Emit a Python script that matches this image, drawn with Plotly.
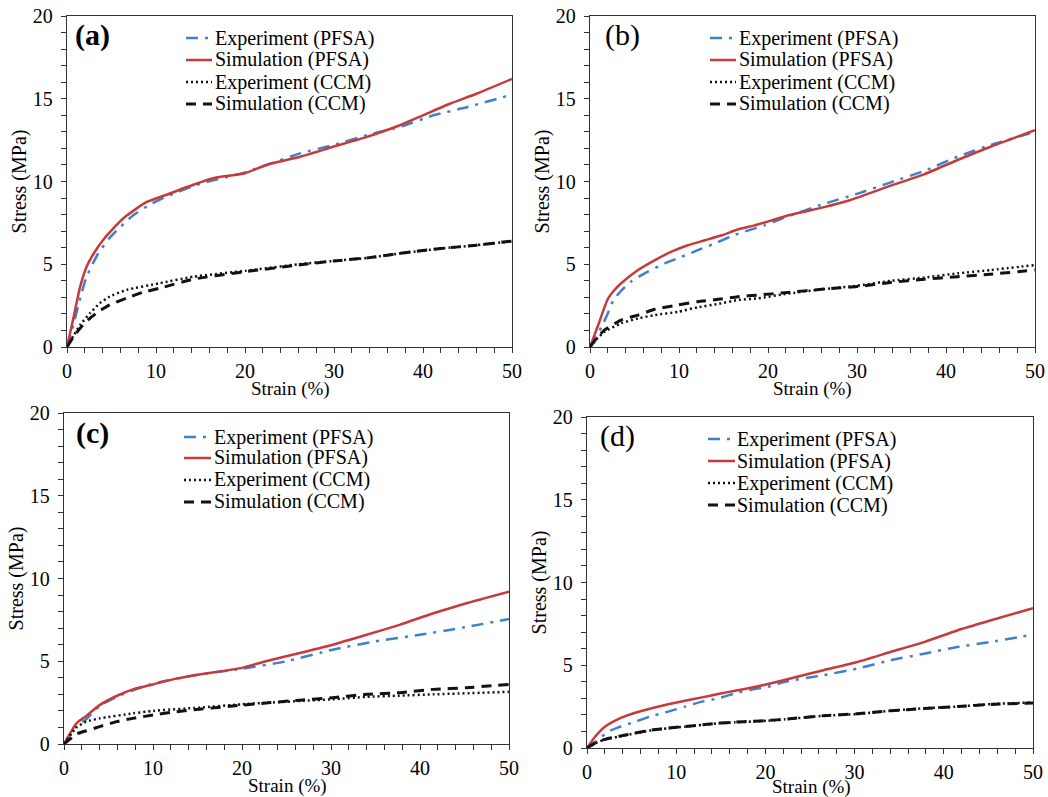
import plotly.graph_objects as go

# ---------------- data (strain %, stress MPa) ----------------
# Panel (a)
a_exp_pfsa_x = [0, 0.7, 1.46, 2.2, 3.5, 4.8, 5.6, 7.4, 9.3, 11.2, 14.9, 20, 22.4, 26.2, 29.9, 33.7, 37.4, 41.2, 45, 50]
a_exp_pfsa_y = [0, 1.3, 2.9, 4.25, 5.65, 6.6, 7.05, 7.95, 8.6, 9.1, 9.85, 10.55, 11.0, 11.7, 12.2, 12.8, 13.3, 14.0, 14.5, 15.25]
a_sim_pfsa_x = [0, 0.7, 1.46, 2.2, 3.0, 4.1, 5.0, 6.5, 8.9, 11.2, 13.4, 16.4, 20, 22.4, 26.2, 29.9, 33.7, 37.4, 40, 43, 46, 50]
a_sim_pfsa_y = [0, 1.7, 3.6, 4.85, 5.65, 6.5, 7.05, 7.85, 8.75, 9.2, 9.65, 10.2, 10.5, 11.0, 11.5, 12.1, 12.7, 13.4, 14.0, 14.7, 15.3, 16.2]
a_exp_ccm_x = [0, 0.7, 1.5, 2.6, 3.7, 4.8, 6.7, 10.4, 14.2, 20, 26, 30, 34, 38, 42, 46, 50]
a_exp_ccm_y = [0, 0.65, 1.35, 2.05, 2.65, 3.05, 3.45, 3.85, 4.25, 4.6, 5.0, 5.2, 5.4, 5.7, 5.95, 6.15, 6.4]
a_sim_ccm_x = [0, 0.7, 1.5, 2.6, 3.7, 4.8, 6.7, 8.5, 10.4, 14.2, 20, 26, 30, 34, 38, 42, 46, 50]
a_sim_ccm_y = [0, 0.6, 1.15, 1.75, 2.2, 2.55, 2.95, 3.3, 3.55, 4.1, 4.55, 4.95, 5.2, 5.4, 5.7, 5.95, 6.15, 6.4]

# Panel (b)
b_exp_pfsa_x = [0, 1.3, 2.0, 2.6, 3.5, 4.6, 6.5, 8.4, 10.3, 12.1, 14, 15.9, 17.8, 19.6, 21.5, 26.3, 30, 33.8, 37.6, 41.3, 45, 50]
b_exp_pfsa_y = [0, 1.23, 2.03, 2.8, 3.4, 3.95, 4.55, 5.05, 5.45, 5.85, 6.25, 6.7, 7.05, 7.35, 7.75, 8.65, 9.25, 9.95, 10.65, 11.5, 12.2, 13.0]
b_sim_pfsa_x = [0, 0.9, 2.0, 2.6, 3.5, 5.4, 7.3, 9.1, 11, 12.9, 14.8, 16.6, 18.5, 20.4, 22.2, 26.3, 29.1, 33.8, 37.6, 41.3, 45, 50]
b_sim_pfsa_y = [0, 1.3, 2.9, 3.35, 3.85, 4.65, 5.25, 5.75, 6.15, 6.45, 6.75, 7.1, 7.35, 7.65, 7.95, 8.45, 8.85, 9.75, 10.45, 11.3, 12.1, 13.1]
b_exp_ccm_x = [0, 0.7, 1.65, 3.5, 5.4, 7.3, 9.9, 12.1, 14.4, 16.6, 18.9, 21.9, 26.3, 30, 33.8, 37.6, 41.3, 45, 50]
b_exp_ccm_y = [0, 0.45, 0.93, 1.43, 1.73, 1.93, 2.13, 2.4, 2.6, 2.84, 2.94, 3.2, 3.5, 3.7, 4.0, 4.2, 4.45, 4.65, 4.95]
b_sim_ccm_x = [0, 0.7, 1.65, 3.5, 5.4, 7.3, 9.9, 12.1, 14.4, 16.6, 18.9, 21.9, 26.3, 30, 33.8, 37.6, 41.3, 45, 50]
b_sim_ccm_y = [0, 0.5, 1.03, 1.63, 1.93, 2.28, 2.54, 2.74, 2.88, 3.04, 3.14, 3.28, 3.5, 3.65, 3.9, 4.1, 4.25, 4.4, 4.65]

# Panel (c)
c_exp_pfsa_x = [0, 1.4, 2.5, 4, 5.9, 7.75, 10, 12.6, 15.2, 20, 25, 30.2, 35, 40, 45, 50]
c_exp_pfsa_y = [0, 1.1, 1.5, 2.3, 2.85, 3.25, 3.65, 3.95, 4.2, 4.55, 5.0, 5.7, 6.2, 6.6, 7.05, 7.55]
c_sim_pfsa_x = [0, 1.4, 2.5, 4, 5.9, 7.75, 10, 12.6, 15.2, 20, 22.7, 26.5, 30.2, 34, 37.7, 41.5, 45.2, 50]
c_sim_pfsa_y = [0, 1.25, 1.7, 2.35, 2.9, 3.3, 3.6, 3.95, 4.2, 4.6, 5.0, 5.5, 6.0, 6.6, 7.2, 7.9, 8.5, 9.2]
c_exp_ccm_x = [0, 1.4, 2.5, 4, 7.75, 10, 15.2, 20, 26.5, 30.2, 34, 37.7, 41.5, 50]
c_exp_ccm_y = [0, 1.0, 1.35, 1.55, 1.85, 2.0, 2.2, 2.4, 2.6, 2.7, 2.85, 2.92, 3.0, 3.15]
c_sim_ccm_x = [0, 1.4, 2.5, 4, 5.9, 7.75, 10, 12.6, 15.2, 20, 26.5, 30.2, 34, 37.7, 41.5, 45.2, 50]
c_sim_ccm_y = [0, 0.6, 0.8, 1.05, 1.35, 1.55, 1.75, 1.95, 2.1, 2.35, 2.65, 2.8, 3.0, 3.1, 3.3, 3.4, 3.6]

# Panel (d)
d_exp_pfsa_x = [0, 1.1, 2.4, 3.5, 5.4, 7.25, 9.1, 11, 12.9, 14.7, 16.6, 18.5, 20.3, 22.2, 26.5, 30.3, 34, 37.8, 41.5, 45.2, 50]
d_exp_pfsa_y = [0, 0.45, 0.99, 1.25, 1.59, 1.93, 2.2, 2.5, 2.8, 3.0, 3.3, 3.54, 3.7, 4.0, 4.4, 4.8, 5.3, 5.7, 6.1, 6.4, 6.85]
d_sim_pfsa_x = [0, 0.9, 2.0, 3.5, 5.4, 7.25, 9.1, 11, 12.9, 14.7, 16.6, 18.5, 20.3, 22.8, 26.5, 30.3, 34, 37.8, 41.5, 45.2, 50]
d_sim_pfsa_y = [0, 0.68, 1.29, 1.75, 2.13, 2.4, 2.64, 2.86, 3.06, 3.26, 3.46, 3.65, 3.87, 4.2, 4.7, 5.2, 5.8, 6.4, 7.1, 7.7, 8.45]
d_exp_ccm_x = [0, 0.9, 2.0, 3.5, 5.4, 7.25, 9.1, 11, 12.9, 14.7, 16.6, 18.5, 20.3, 22.2, 26.5, 30.3, 34, 37.8, 41.5, 45.2, 50]
d_exp_ccm_y = [0, 0.28, 0.52, 0.68, 0.89, 1.07, 1.19, 1.29, 1.39, 1.49, 1.55, 1.6, 1.65, 1.73, 1.95, 2.05, 2.25, 2.4, 2.5, 2.65, 2.75]
d_sim_ccm_x = [0, 0.9, 2.0, 3.5, 5.4, 7.25, 9.1, 11, 12.9, 14.7, 16.6, 18.5, 20.3, 22.2, 26.5, 30.3, 34, 37.8, 41.5, 45.2, 50]
d_sim_ccm_y = [0, 0.3, 0.52, 0.7, 0.9, 1.09, 1.2, 1.3, 1.4, 1.5, 1.56, 1.61, 1.66, 1.74, 1.95, 2.07, 2.25, 2.38, 2.5, 2.63, 2.72]

series_names = ["Experiment (PFSA)", "Simulation (PFSA)", "Experiment (CCM)", "Simulation (CCM)"]
panel_labels = ["(a)", "(b)", "(c)", "(d)"]
x_title = "Strain (%)"
y_title = "Stress (MPa)"
x_ticks = [0, 10, 20, 30, 40, 50]
y_ticks = [0, 5, 10, 15, 20]

panels = [
    (a_exp_pfsa_x, a_exp_pfsa_y, a_sim_pfsa_x, a_sim_pfsa_y, a_exp_ccm_x, a_exp_ccm_y, a_sim_ccm_x, a_sim_ccm_y),
    (b_exp_pfsa_x, b_exp_pfsa_y, b_sim_pfsa_x, b_sim_pfsa_y, b_exp_ccm_x, b_exp_ccm_y, b_sim_ccm_x, b_sim_ccm_y),
    (c_exp_pfsa_x, c_exp_pfsa_y, c_sim_pfsa_x, c_sim_pfsa_y, c_exp_ccm_x, c_exp_ccm_y, c_sim_ccm_x, c_sim_ccm_y),
    (d_exp_pfsa_x, d_exp_pfsa_y, d_sim_pfsa_x, d_sim_pfsa_y, d_exp_ccm_x, d_exp_ccm_y, d_sim_ccm_x, d_sim_ccm_y),
]

# ---------------- styling / layout ----------------
W, H = 1048, 797
FONT = "Liberation Serif, Times New Roman, serif"
styles = [
    dict(color="#3f80cc", width=2.5, dash="12px,7px,3px,7px"),
    dict(color="#c83a3a", width=2.5, dash="solid"),
    dict(color="#111111", width=2.5, dash="2px,3px"),
    dict(color="#111111", width=3, dash="10px,7px"),
]
# plot areas in pixels: left, right, top, bottom
boxes = [(67, 512, 16, 347), (590, 1035, 16, 347), (64, 509, 413, 744), (587, 1033, 417, 748)]
# legend: sample start x, sample end x, text left x, row centre y's
legend_geo = [
    (186, 212, 213, [38, 60, 82, 104]),
    (710, 736, 737, [38, 60, 82, 104]),
    (184, 211, 212, [437, 458, 480, 502]),
    (708, 735, 735, [439, 461, 483, 505]),
]
label_pos = [(92, 35), (622, 35), (92, 433), (617, 436)]
label_bold = [True, False, True, False]
xtitle_pos = [(290, 389), (812, 389), (287, 786), (811, 787)]

fig = go.Figure()
layout = dict(width=W, height=H, margin=dict(l=0, r=0, t=0, b=0, autoexpand=False),
              paper_bgcolor="white", plot_bgcolor="white", showlegend=False,
              font=dict(family=FONT, size=20, color="black"))
annotations = []
shapes = []
for i, data in enumerate(panels):
    n = i + 1
    xa = "x" if n == 1 else f"x{n}"
    ya = "y" if n == 1 else f"y{n}"
    for k in range(4):
        fig.add_trace(go.Scatter(
            x=data[2 * k], y=data[2 * k + 1], mode="lines", name=series_names[k],
            line=dict(shape="spline", smoothing=0.5, **styles[k]),
            xaxis=xa, yaxis=ya, hoverinfo="skip"))
    l, r, t, b = boxes[i]
    axis_common = dict(showgrid=False, zeroline=False, showline=True, linecolor="#333333",
                       linewidth=1.3, mirror=True, ticks="outside", ticklen=5, tickcolor="#333333",
                       automargin=False, fixedrange=True,
                       tickfont=dict(family=FONT, size=20, color="black"))
    layout["xaxis" if n == 1 else f"xaxis{n}"] = dict(
        axis_common, domain=[l / W, r / W], range=[0, 50], tickvals=x_ticks,
        minor=dict(dtick=2, ticks="outside", ticklen=5, tickcolor="#333333"),
        ticklabelstandoff=1, anchor=ya)
    layout["yaxis" if n == 1 else f"yaxis{n}"] = dict(
        axis_common, domain=[1 - b / H, 1 - t / H], range=[0, 20], tickvals=y_ticks,
        minor=dict(dtick=1, ticks="outside", ticklen=5, tickcolor="#333333"),
        ticklabelstandoff=4,
        anchor=xa, title=dict(text=y_title, standoff=0, font=dict(family=FONT, size=20)))
    # x-axis title (placed like the original, tight under the tick labels)
    tx_, ty_ = xtitle_pos[i]
    annotations.append(dict(text=x_title, x=tx_ / W, y=1 - ty_ / H, xref="paper", yref="paper",
                            showarrow=False, xanchor="center", yanchor="middle",
                            font=dict(family=FONT, size=19, color="black")))
    # manual legend (samples + text)
    sx0, sx1, tx, rows = legend_geo[i]
    for k in range(4):
        st = styles[k]
        shapes.append(dict(type="line", xref="paper", yref="paper",
                           x0=sx0 / W, x1=sx1 / W, y0=1 - rows[k] / H, y1=1 - rows[k] / H,
                           line=dict(color=st["color"], width=st["width"], dash=st["dash"])))
        annotations.append(dict(text=series_names[k], x=tx / W, y=1 - rows[k] / H,
                                xref="paper", yref="paper", showarrow=False,
                                xanchor="left", yanchor="middle",
                                font=dict(family=FONT, size=20, color="black")))
    px, py = label_pos[i]
    txt = f"<b>{panel_labels[i]}</b>" if label_bold[i] else panel_labels[i]
    annotations.append(dict(text=txt, x=px / W, y=1 - py / H, xref="paper", yref="paper",
                            showarrow=False, xanchor="center", yanchor="middle",
                            font=dict(family=FONT, size=30, color="black")))
layout["annotations"] = annotations
layout["shapes"] = shapes
fig.update_layout(**layout)
fig.write_html("out.html", config={"responsive": False, "displayModeBar": False},
               post_script="document.body.style.margin='0';document.body.style.overflow='hidden';")
